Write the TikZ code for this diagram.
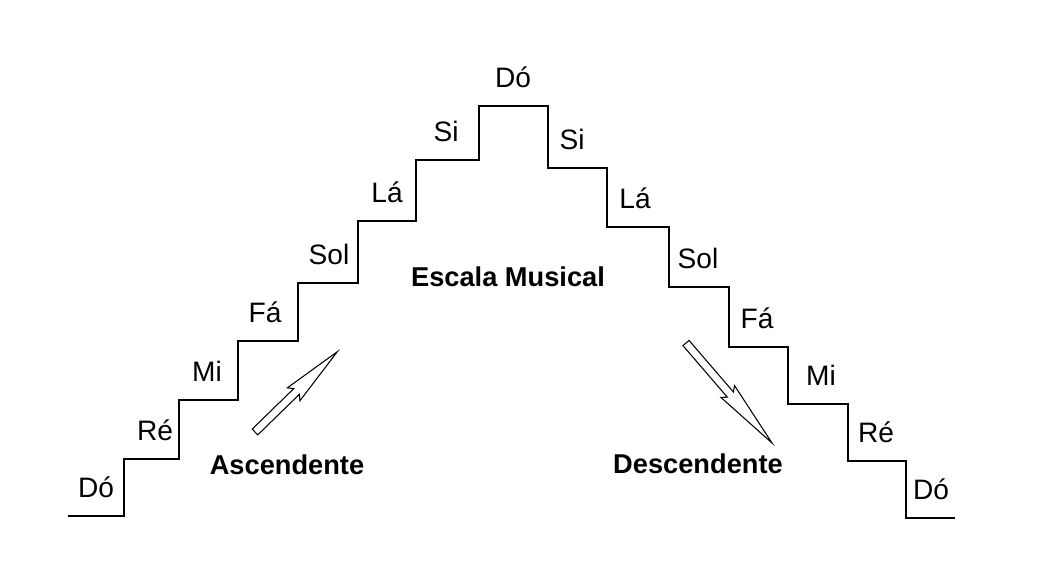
\documentclass[tikz,border=0pt]{standalone}
\usepackage{fontspec}
\setmainfont{Liberation Sans}
\usetikzlibrary{positioning}
\tikzstyle{stair} = [draw, line width=1.1pt, line join=miter]
\tikzstyle{note} = [anchor=base, inner sep=0pt, font=\fontsize{16}{19}\selectfont]
\tikzstyle{caption} = [inner sep=0pt, font=\fontsize{15.5}{18}\selectfont\bfseries]
\tikzstyle{hollow} = [draw, line width=0.6pt, fill=white, line join=miter]

\begin{document}
\begin{tikzpicture}[x=0.02cm, y=-0.02cm]
    \useasboundingbox (0,0) rectangle (1045,561);

    % the staircase
    \draw [stair] (68,516) -| (124,459) -| (179,400) -| (238,341) -| (298,283)
        -| (358,221) -| (416,160) -| (479,106) -| (548,168) -| (607,227)
        -| (669,287) -| (729,347) -| (788,404) -| (848,461) -| (906,518) -- (955,518);

    % notes, baseline just above each step
    \foreach \x/\y/\t [count=\i] in {96/516/Dó, 155/459/Ré, 207/400/Mi, 265/341/Fá,
        329/283/Sol, 387/221/Lá, 446/160/Si, 513/106/Dó,
        572/168/Si, 635/227/Lá, 698/287/Sol, 757/347/Fá, 821/404/Mi, 876/461/Ré, 931/518/Dó}
        \node (n\i) [note] at (\x,\y-19) {\t};

    \node (title) [caption] at (508,277) {Escala Musical};
    \node (asc) [caption] at (287,465) {Ascendente};
    \node (desc) [caption] at (698,464) {Descendente};

    % hollow arrows
    \begin{scope}[shift={(255,432)}, rotate=44.3]
        \draw [hollow] (0,-4) -- (58,-4) -- (54,-9) -- (115,0) -- (54,9) -- (58,4) -- (0,4) -- cycle;
    \end{scope}
    \begin{scope}[shift={(686,343)}, rotate=-49.3]
        \draw [hollow] (0,-4) -- (68,-4) -- (64,-9) -- (132,0) -- (64,9) -- (68,4) -- (0,4) -- cycle;
    \end{scope}
\end{tikzpicture}
\end{document}
